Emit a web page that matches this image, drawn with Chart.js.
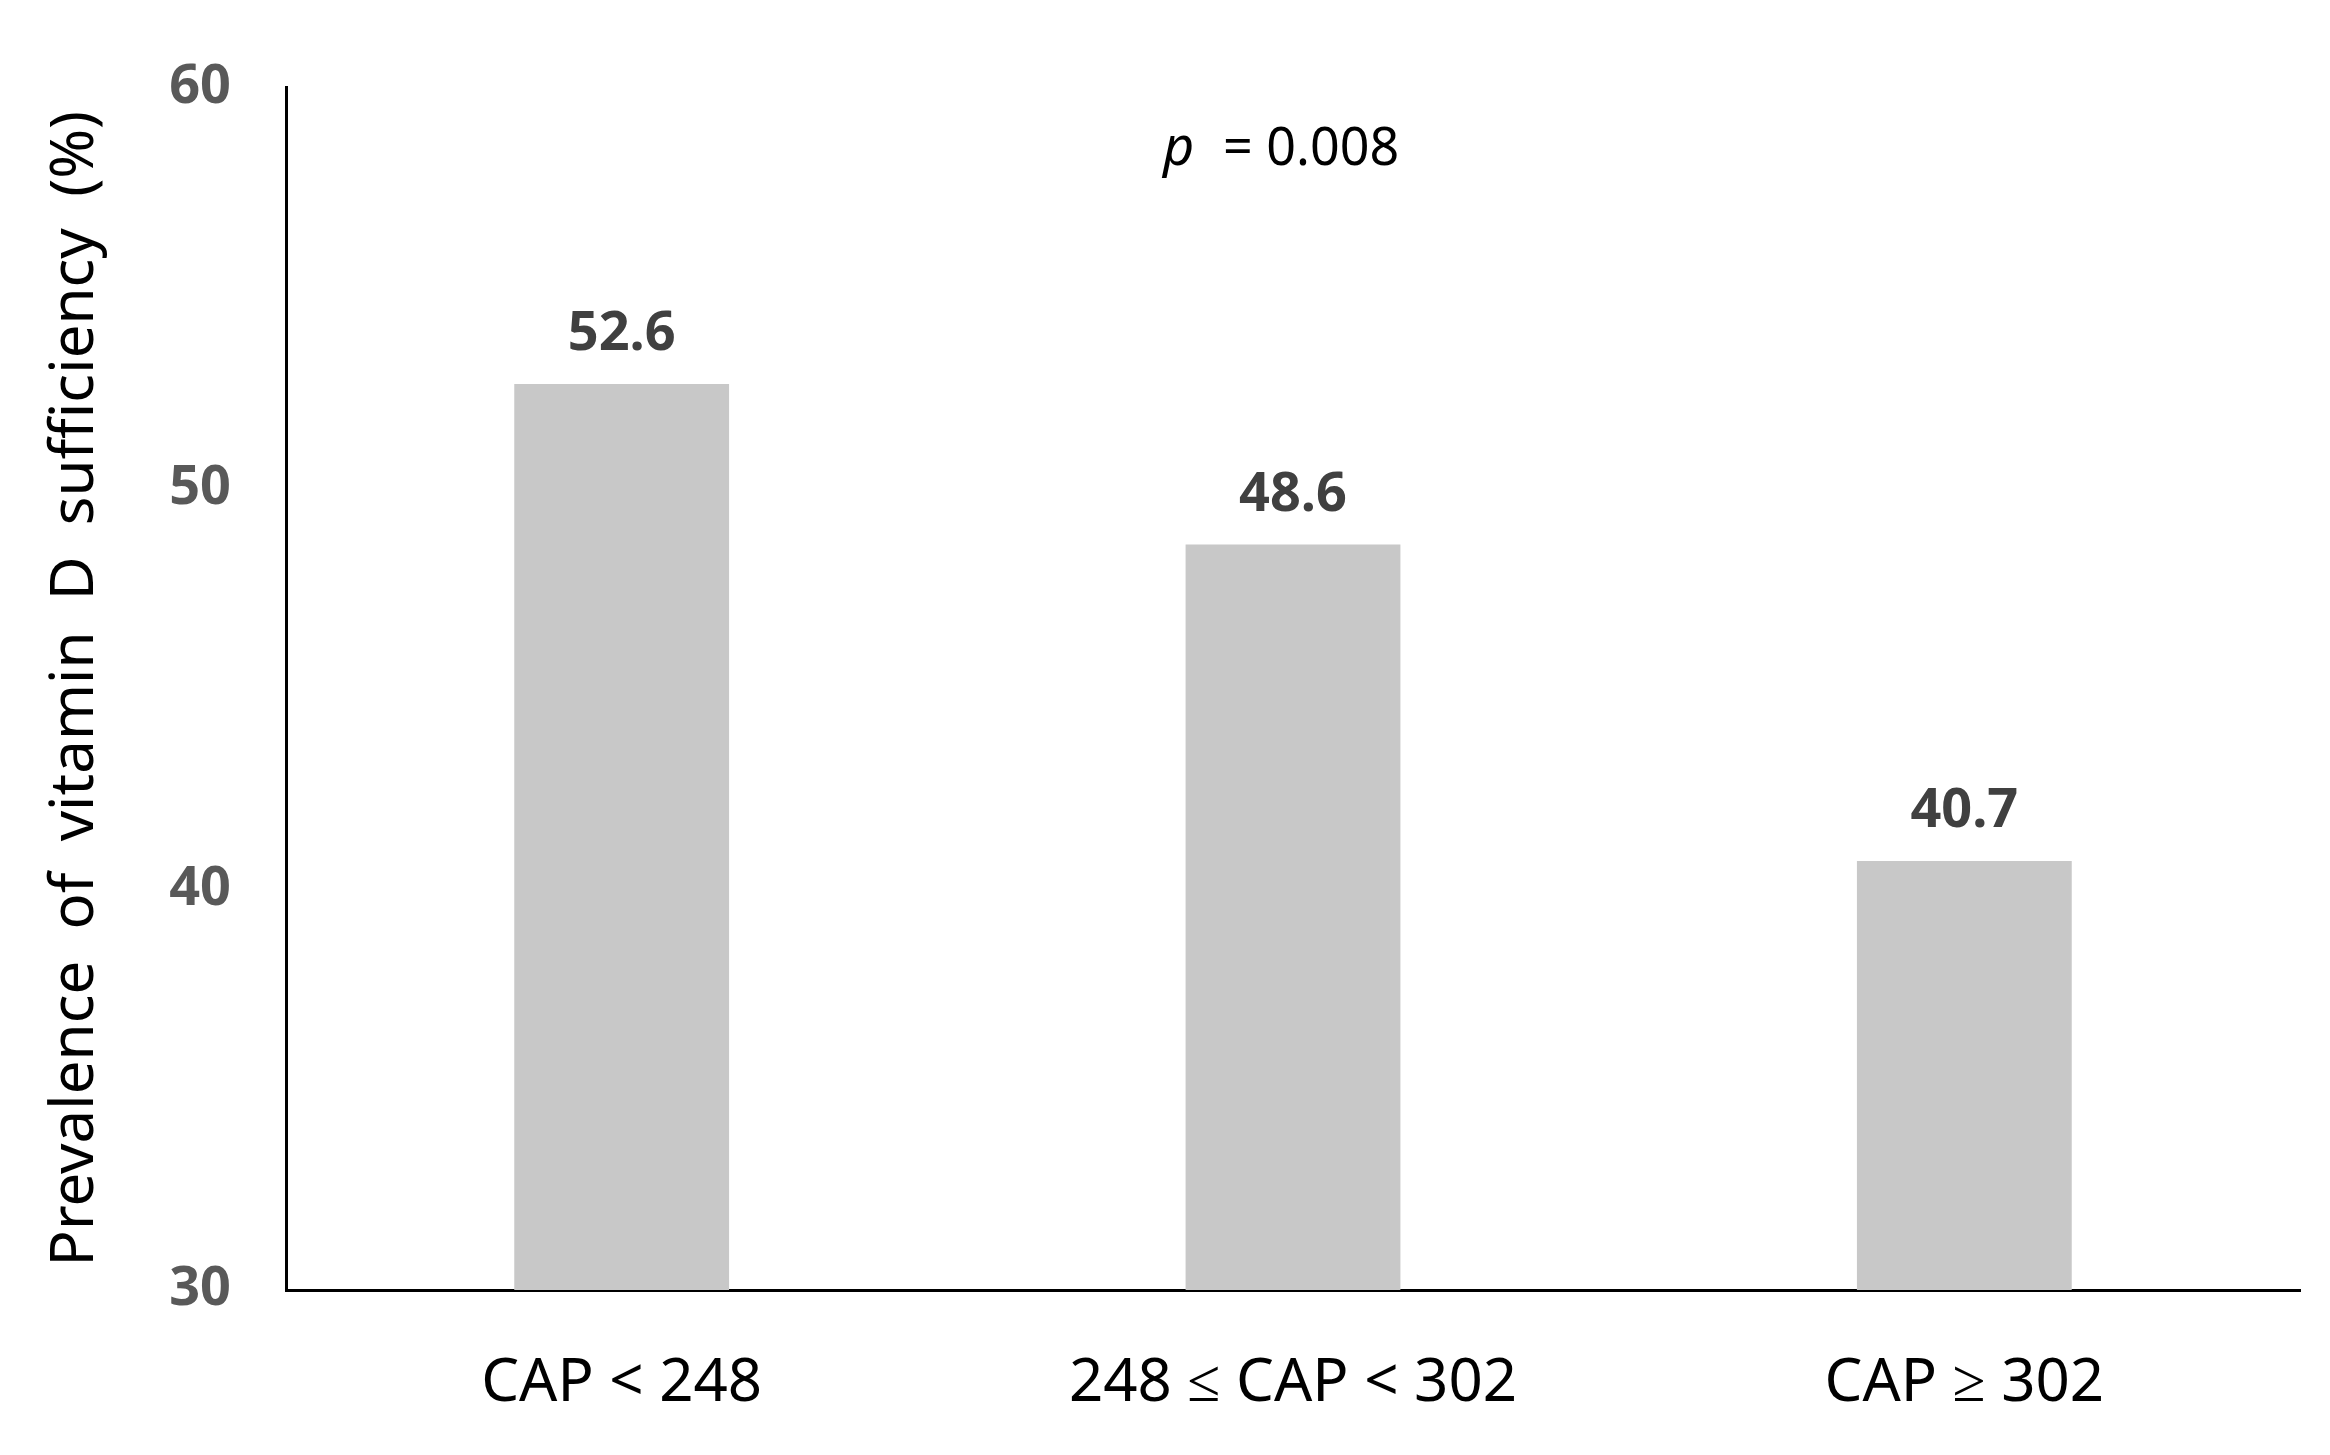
<!DOCTYPE html>
<html>
<head>
<meta charset="utf-8">
<script src="https://cdn.jsdelivr.net/npm/chart.js@4/dist/chart.umd.min.js"></script>
<style>
  body { margin: 0; background: #fff; }
  #wrap { width: 2330px; height: 1455px; }
</style>
</head>
<body>
<div id="wrap"><canvas id="chart1" width="2330" height="1455"></canvas></div>
<script>
const categories = ['CAP < 248', '248 \u2264 CAP < 302', 'CAP \u2265 302'];
const prevalence = [52.6, 48.6, 40.7];
const yTicks = [30, 40, 50, 60];
const pText = '= 0.008';

// value labels above bars + p-value note
const labelPlugin = {
    id: 'labels',
    afterDatasetsDraw(chart) {
        const ctx = chart.ctx;
        const meta = chart.getDatasetMeta(0);
        ctx.save();
        ctx.font = 'bold 54px "Noto Sans"';
        ctx.fillStyle = '#404040';
        ctx.textAlign = 'center';
        ctx.textBaseline = 'bottom';
        meta.data.forEach((bar, i) => {
            ctx.fillText(prevalence[i].toFixed(1), bar.x, bar.y - 22);
        });
        const cx = chart.scales.x.getPixelForValue(1);
        ctx.font = 'italic 54px "Noto Sans"';
        ctx.fillStyle = '#000';
        ctx.textBaseline = 'middle';
        ctx.textAlign = 'left';
        ctx.fillText('p', cx - 130, 150);
        ctx.font = '52px "Noto Sans"';
        ctx.fillText(pText, cx - 70, 150);
        ctx.restore();
    }
};

new Chart(document.getElementById('chart1').getContext('2d'), {
    type: 'bar',
    data: {
        labels: categories,
        datasets: [{
            data: prevalence,
            backgroundColor: '#c8c8c8',
            categoryPercentage: 1,
            barPercentage: 0.32
        }]
    },
    options: {
        responsive: false,
        animation: false,
        layout: { padding: { top: 70, right: 30 } },
        plugins: { legend: { display: false }, tooltip: { enabled: false } },
        scales: {
            x: {
                grid: { display: false, drawTicks: false },
                border: { color: '#000', width: 3 },
                ticks: { color: '#000', font: { size: 60, family: 'Noto Sans' }, padding: 58 },
                afterFit: s => { s.height = 165; }
            },
            y: {
                min: 30, max: 60,
                afterBuildTicks: s => { s.ticks = yTicks.map(v => ({ value: v })); },
                grid: { display: false, drawTicks: false },
                border: { color: '#000', width: 3 },
                ticks: { color: '#595959', font: { size: 54, weight: 'bold', family: 'Noto Sans' }, padding: 55 },
                title: {
                    display: true,
                    text: 'Prevalence  of  vitamin  D  sufficiency  (%)',
                    color: '#000',
                    font: { size: 60, family: 'Noto Sans' },
                    padding: { top: 40, bottom: 0 }
                },
                afterFit: s => { s.width = 286; }
            }
        }
    },
    plugins: [labelPlugin]
});
</script>
</body>
</html>
